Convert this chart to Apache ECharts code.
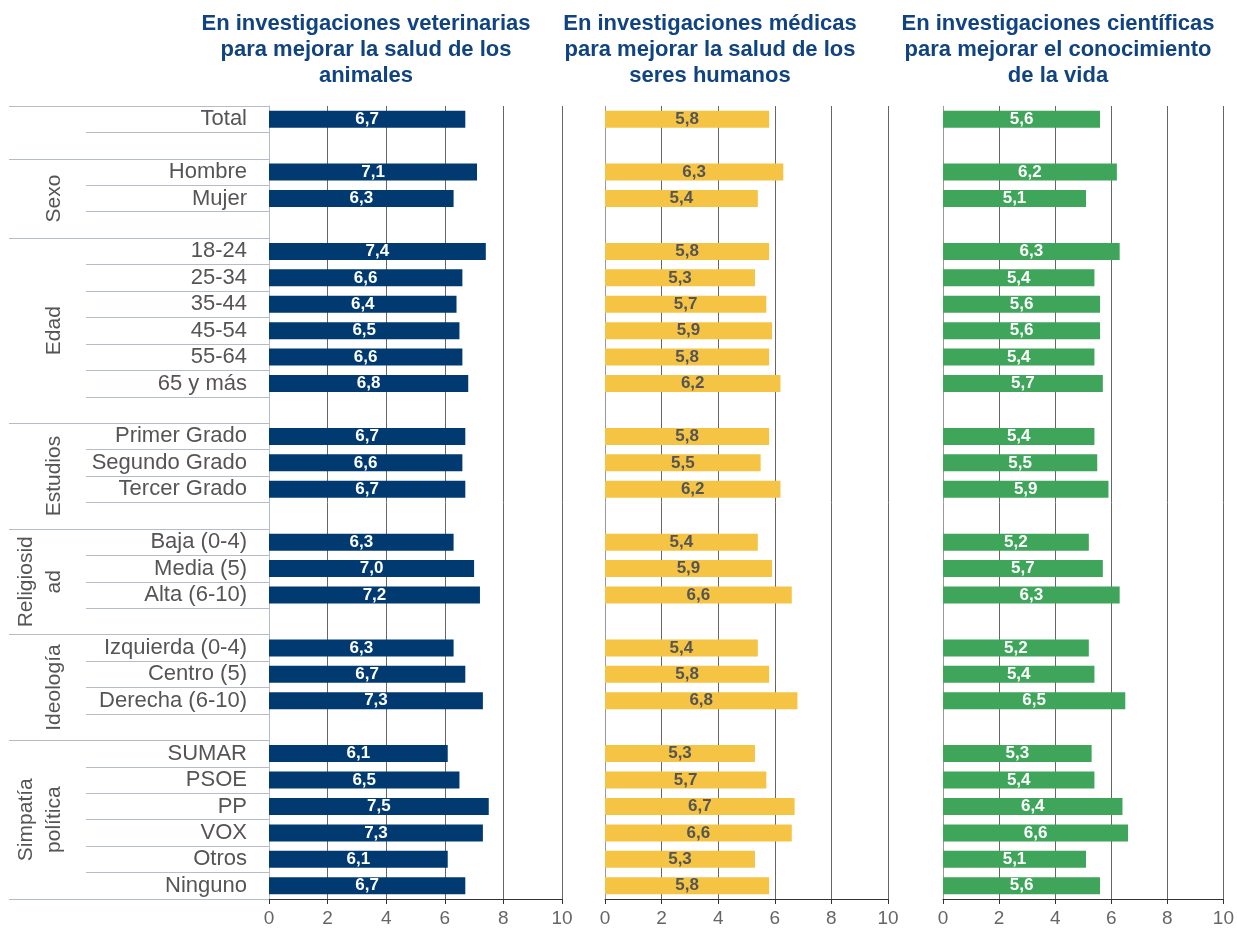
<!DOCTYPE html>
<html>
<head>
<meta charset="utf-8">
<script src="https://cdn.jsdelivr.net/npm/echarts@6/dist/echarts.min.js"></script>
<style>
  html, body { margin: 0; padding: 0; background: #fff; }
  #chart { width: 1237px; height: 928px; }
</style>
</head>
<body>
<div id="chart"></div>
<script>
const myChart = echarts.init(document.getElementById("chart"));

// rows, top to bottom ('' = spacer row)
const categories = [
    "Total", "",
    "Hombre", "Mujer", "",
    "18-24", "25-34", "35-44", "45-54", "55-64", "65 y más", "",
    "Primer Grado", "Segundo Grado", "Tercer Grado", "",
    "Baja (0-4)", "Media (5)", "Alta (6-10)", "",
    "Izquierda (0-4)", "Centro (5)", "Derecha (6-10)", "",
    "SUMAR", "PSOE", "PP", "VOX", "Otros", "Ninguno"
];

const veterinarias = [
    6.7, null,
    7.1, 6.3, null,
    7.4, 6.6, 6.4, 6.5, 6.6, 6.8, null,
    6.7, 6.6, 6.7, null,
    6.3, 7.0, 7.2, null,
    6.3, 6.7, 7.3, null,
    6.1, 6.5, 7.5, 7.3, 6.1, 6.7
];

const medicas = [
    5.8, null,
    6.3, 5.4, null,
    5.8, 5.3, 5.7, 5.9, 5.8, 6.2, null,
    5.8, 5.5, 6.2, null,
    5.4, 5.9, 6.6, null,
    5.4, 5.8, 6.8, null,
    5.3, 5.7, 6.7, 6.6, 5.3, 5.8
];

const cientificas = [
    5.6, null,
    6.2, 5.1, null,
    6.3, 5.4, 5.6, 5.6, 5.4, 5.7, null,
    5.4, 5.5, 5.9, null,
    5.2, 5.7, 6.3, null,
    5.2, 5.4, 6.5, null,
    5.3, 5.4, 6.4, 6.6, 5.1, 5.6
];

// group boundaries (in rows) and group names
const groupBounds = [0, 2, 5, 12, 16, 20, 24, 30];
const groupNames = ["", "Sexo", "Edad", "Estudios", "Religiosid\nad", "Ideología", "Simpatía\npolítica"];

const titles = [
    "En investigaciones veterinarias\npara mejorar la salud de los\nanimales",
    "En investigaciones médicas\npara mejorar la salud de los\nseres humanos",
    "En investigaciones científicas\npara mejorar el conocimiento\nde la vida"
];

const groupMids = [];
const groupLabelMap = {};
for (let i = 1; i < groupBounds.length - 1; i++) {
    const mid = (groupBounds[i] + groupBounds[i + 1]) / 2;
    groupMids.push(mid);
    groupLabelMap[mid] = groupNames[i];
}

const FONT = "Liberation Sans";
const lineColor = "#b4bccc";
const gridTop = 106;
const gridHeight = 793;

const grids = [
    {left: 269, width: 293, top: gridTop, height: gridHeight},
    {left: 605, width: 283, top: gridTop, height: gridHeight},
    {left: 943, width: 284, top: gridTop, height: gridHeight}
];

const xAxes = grids.map((g, i) => ({
    type: "value",
    gridIndex: i,
    min: 0,
    max: 10,
    interval: 2,
    axisLine: {show: true, onZero: false, lineStyle: {color: "#333", width: 1}},
    axisTick: {show: true, length: 5, lineStyle: {color: "#333"}},
    axisLabel: {
        color: "#666",
        fontFamily: FONT,
        fontSize: 19,
        margin: 10
    },
    splitLine: {
        show: true,
        lineStyle: {
            color: [i === 0 ? lineColor : "#999", "#666", "#666", "#666", "#666", "#666"],
            width: 1
        }
    }
}));

const yAxes = [
    {
        type: "category",
        gridIndex: 0,
        data: categories,
        inverse: true,
        axisLine: {show: true, lineStyle: {color: lineColor}},
        axisTick: {show: true, interval: 0, length: 183, lineStyle: {color: lineColor}},
        axisLabel: {
            interval: 0,
            color: "#555",
            fontFamily: FONT,
            fontSize: 22,
            margin: 22
        },
        splitLine: {show: false}
    },
    {
        type: "value",
        gridIndex: 0,
        min: 0,
        max: 30,
        inverse: true,
        position: "left",
        axisLine: {show: false},
        axisTick: {show: true, customValues: groupBounds, length: 260, lineStyle: {color: lineColor}},
        axisLabel: {
            customValues: groupMids,
            formatter: v => groupLabelMap[v] || "",
            rotate: 90,
            color: "#555",
            fontFamily: FONT,
            fontSize: 21,
            lineHeight: 28,
            margin: 201
        },
        splitLine: {show: false}
    },
    {
        type: "category",
        gridIndex: 1,
        data: categories,
        inverse: true,
        axisLine: {show: false},
        axisTick: {show: false},
        axisLabel: {show: false}
    },
    {
        type: "category",
        gridIndex: 2,
        data: categories,
        inverse: true,
        axisLine: {show: false},
        axisTick: {show: false},
        axisLabel: {show: false}
    }
];

const fmt = p => p.value == null ? "" : p.value.toFixed(1).replace(".", ",");

const makeSeries = (data, idx, yIdx, color, labelColor) => ({
    type: "bar",
    xAxisIndex: idx,
    yAxisIndex: yIdx,
    data: data,
    barWidth: 17,
    itemStyle: {color: color},
    label: {
        show: true,
        position: "inside",
        formatter: fmt,
        color: labelColor,
        fontFamily: FONT,
        fontWeight: "bold",
        fontSize: 17
    },
    silent: true,
    animation: false
});

const option = {
    backgroundColor: "#fff",
    animation: false,
    title: titles.map((t, i) => ({
        text: t,
        left: [361, 705, 1053][i],
        top: 6,
        textAlign: "center",
        textStyle: {
            color: "#104380",
            fontFamily: FONT,
            fontWeight: "bold",
            fontSize: 22,
            lineHeight: 26
        }
    })),
    grid: grids,
    xAxis: xAxes,
    yAxis: yAxes,
    series: [
        makeSeries(veterinarias, 0, 0, "#003a70", "#fff"),
        makeSeries(medicas, 1, 2, "#f6c445", "#555"),
        makeSeries(cientificas, 2, 3, "#3ea55a", "#fff")
    ]
};

myChart.setOption(option);
</script>
</body>
</html>
